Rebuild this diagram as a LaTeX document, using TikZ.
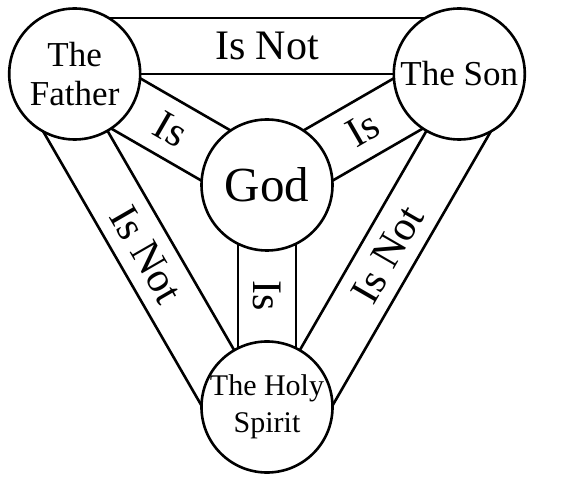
\documentclass[tikz,border=0pt]{standalone}
\usepackage{fontspec}
\setmainfont{Liberation Serif}
\usetikzlibrary{calc, backgrounds}

\begin{document}
\begin{tikzpicture}[x=1pt, y=-1pt, line width=2.6pt,
		person/.style={circle, draw, fill=white, minimum size=131pt, inner sep=0pt, align=center, font=\fontsize{35}{39}\selectfont},
		band/.style={draw, line width=2.6pt},
		link/.style={inner sep=0pt, font=\fontsize{42}{42}\selectfont}]
	\useasboundingbox (0,0) rectangle (562,486);

	\node[person] (father) at (74.7,74) {The\\Father};
	\node[person] (son) at (459.3,74) {The Son};
	\node[person, font=\fontsize{49}{49}\selectfont] (god) at (267,185) {God};
	\node[person, font=\fontsize{30}{37}\selectfont] (spirit) at (267,407) {The Holy\\Spirit};

	\begin{scope}[on background layer, every path/.style={band}]
		% outer bands
		\path (father.center) -- (son.center);
		\path ($(father.center)!56pt!90:(son.center)$) -- ($(son.center)!56pt!-90:(father.center)$);
		\path (son.center) -- (spirit.center);
		\path ($(son.center)!56pt!90:(spirit.center)$) -- ($(spirit.center)!56pt!-90:(son.center)$);
		\path (spirit.center) -- (father.center);
		\path ($(spirit.center)!56pt!90:(father.center)$) -- ($(father.center)!56pt!-90:(spirit.center)$);

		% inner bands
		\foreach \who in {father, son, spirit} {
			\path ($(\who.center)!29pt!90:(god.center)$) -- ($(god.center)!29pt!-90:(\who.center)$);
			\path ($(\who.center)!29pt!-90:(god.center)$) -- ($(god.center)!29pt!90:(\who.center)$);
		}
	\end{scope}

	\path ($(father.center)!28pt!90:(son.center)$) -- node[link] {Is Not} ($(son.center)!28pt!-90:(father.center)$);
	\path ($(son.center)!28pt!90:(spirit.center)$) -- node[link, rotate=60] {Is Not} ($(spirit.center)!28pt!-90:(son.center)$);
	\path ($(spirit.center)!28pt!90:(father.center)$) -- node[link, rotate=-60] {Is Not} ($(father.center)!28pt!-90:(spirit.center)$);

	\path (father) -- node[link, rotate=-30] {Is} (god);
	\path (son) -- node[link, rotate=30] {Is} (god);
	\path (god) -- node[link, rotate=-90] {Is} (spirit);
\end{tikzpicture}
\end{document}
